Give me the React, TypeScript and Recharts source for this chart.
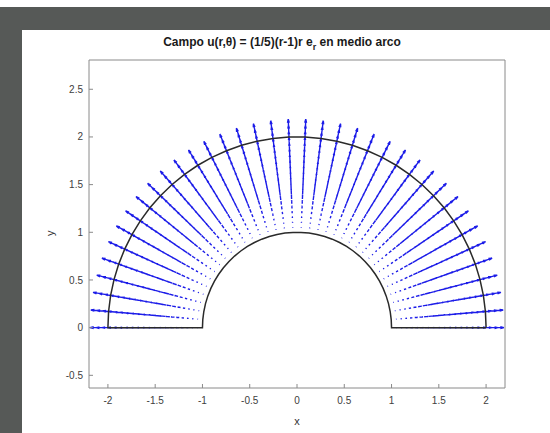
import { ComposedChart, Line, XAxis, YAxis, Label } from 'recharts'

// grid of the quiver plot (polar): radii and angles in degrees
const radii = [
  1, 1.05, 1.1, 1.15, 1.2, 1.25, 1.3, 1.35, 1.4, 1.45, 1.5, 1.55, 1.6, 1.65,
  1.7, 1.75, 1.8, 1.85, 1.9, 1.95, 2,
]
// |u| = (1/5)(r-1)r at each radius
const magnitudes = [
  0, 0.0105, 0.022, 0.0345, 0.048, 0.0625, 0.078, 0.0945, 0.112, 0.1305, 0.15,
  0.1705, 0.192, 0.2145, 0.238, 0.2625, 0.288, 0.3145, 0.342, 0.3705, 0.4,
]
const anglesDeg = [
  0, 4.86, 9.73, 14.59, 19.46, 24.32, 29.19, 34.05, 38.92, 43.78, 48.65, 53.51,
  58.38, 63.24, 68.11, 72.97, 77.84, 82.7, 87.57, 92.43, 97.3, 102.16, 107.03,
  111.89, 116.76, 121.62, 126.49, 131.35, 136.22, 141.08, 145.95, 150.81,
  155.68, 160.54, 165.41, 170.27, 175.14, 180,
]
const innerRadius = 1
const outerRadius = 2

const xTicks = [-2, -1.5, -1, -0.5, 0, 0.5, 1, 1.5, 2]
const yTicks = [-0.5, 0, 0.5, 1, 1.5, 2, 2.5]
const xDomain = [-2.2, 2.2]
const yDomain = [-0.633, 2.807]

const QUIVER_SCALE = 0.47
const HEAD_LEN = 0.2
const HEAD_WIDTH = 0.25

type Pt = { x: number; y: number | null }

const rad = (d: number) => (d * Math.PI) / 180

// every arrow is a shaft plus a two-barb head, separated by null gaps
const quiverData: Pt[] = []
anglesDeg.forEach((deg) => {
  const c = Math.cos(rad(deg))
  const s = Math.sin(rad(deg))
  radii.forEach((r, i) => {
    const x = r * c
    const y = r * s
    const u = magnitudes[i] * c * QUIVER_SCALE
    const v = magnitudes[i] * s * QUIVER_SCALE
    const tx = x + u
    const ty = y + v
    quiverData.push(
      { x, y },
      { x: tx, y: ty },
      { x: tx, y: null },
      { x: tx - HEAD_LEN * (u + HEAD_WIDTH * v), y: ty - HEAD_LEN * (v - HEAD_WIDTH * u) },
      { x: tx, y: ty },
      { x: tx - HEAD_LEN * (u - HEAD_WIDTH * v), y: ty - HEAD_LEN * (v + HEAD_WIDTH * u) },
      { x: tx, y: null },
    )
  })
})

// half ring outline: outer arc, left base, inner arc back, right base
const boundaryData: Pt[] = [
  ...anglesDeg.map((d) => ({ x: outerRadius * Math.cos(rad(d)), y: outerRadius * Math.sin(rad(d)) })),
  ...[...anglesDeg].reverse().map((d) => ({ x: innerRadius * Math.cos(rad(d)), y: innerRadius * Math.sin(rad(d)) })),
  { x: outerRadius, y: 0 },
]

const axisColor = '#8a8a8a'
const tickStyle = { fill: '#404040', fontSize: 10 }

export default function App() {
  return (
    <div
      style={{
        position: 'fixed',
        left: 0,
        top: 0,
        width: 550,
        height: 433,
        background: '#fff',
        fontFamily: '"Liberation Sans", Arial, sans-serif',
        overflow: 'hidden',
      }}
    >
      <div style={{ position: 'absolute', left: 0, top: 7, width: 550, height: 23, background: '#565957' }} />
      <div style={{ position: 'absolute', left: 0, top: 7, width: 22, height: 426, background: '#565957' }} />
      <div
        style={{
          position: 'absolute',
          left: 0,
          width: 564,
          top: 36,
          textAlign: 'center',
          fontSize: 12,
          fontWeight: 'bold',
          lineHeight: '12px',
          color: '#1a1a1a',
          whiteSpace: 'nowrap',
        }}
      >
        Campo u(r,θ) = (1/5)(r-1)r e
        <span style={{ fontSize: 9, position: 'relative', top: 4 }}>r</span> en medio arco
      </div>
      <div style={{ position: 'absolute', left: 0, top: 0 }}>
        <ComposedChart width={550} height={433} margin={{ top: 55, right: 40, bottom: 5, left: 49 }}>
          <XAxis
            type="number"
            dataKey="x"
            domain={xDomain}
            allowDataOverflow
            ticks={xTicks}
            tickSize={-4}
            tickMargin={13}
            height={40}
            stroke={axisColor}
            tick={tickStyle}
          >
            <Label value="x" position="insideBottom" offset={3} fill="#333" fontSize={11} />
          </XAxis>
          <XAxis
            xAxisId="top"
            orientation="top"
            type="number"
            dataKey="x"
            domain={xDomain}
            allowDataOverflow
            ticks={xTicks}
            tick={false}
            tickSize={-4}
            height={5}
            stroke={axisColor}
          />
          <YAxis
            type="number"
            domain={yDomain}
            allowDataOverflow
            ticks={yTicks}
            tickSize={-4}
            tickMargin={10}
            width={40}
            stroke={axisColor}
            tick={tickStyle}
          >
            <Label value="y" angle={-90} position="insideLeft" offset={1} dy={12} fill="#333" fontSize={11} />
          </YAxis>
          <YAxis
            yAxisId="right"
            orientation="right"
            type="number"
            domain={yDomain}
            allowDataOverflow
            ticks={yTicks}
            tick={false}
            tickSize={-4}
            width={5}
            stroke={axisColor}
          />
          <Line
            data={quiverData}
            dataKey="y"
            type="linear"
            stroke="#1c1ce8"
            strokeWidth={1.4}
            dot={false}
            activeDot={false}
            connectNulls={false}
            isAnimationActive={false}
          />
          <Line
            data={boundaryData}
            dataKey="y"
            type="linear"
            stroke="#2a2a2a"
            strokeWidth={1.5}
            dot={false}
            activeDot={false}
            isAnimationActive={false}
          />
        </ComposedChart>
      </div>
    </div>
  )
}
